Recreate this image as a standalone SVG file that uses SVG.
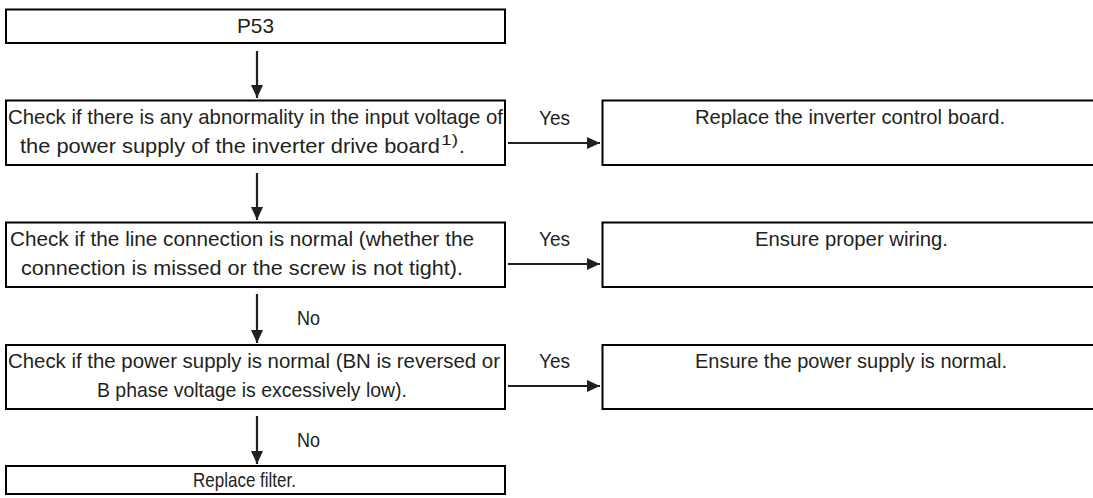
<svg xmlns="http://www.w3.org/2000/svg" width="1093" height="498" viewBox="0 0 1093 498">
<style>
.box{fill:#fff;stroke:#000;stroke-width:2}
text{font-family:"Liberation Sans",Arial,sans-serif;font-size:21px;fill:#231f20}
.c{stroke:#231f20;stroke-width:2.2;fill:none}
</style>
<defs>
<marker id="ah" markerUnits="userSpaceOnUse" markerWidth="14" markerHeight="12" viewBox="0 0 14 12" refX="13" refY="6" orient="auto">
<path d="M0,0 L13,6 L0,12 Z" fill="#231f20"/>
</marker>
</defs>
<rect width="1093" height="498" fill="#fff"/>
<g id="connectors">
<line class="c" x1="257" y1="51" x2="257" y2="98" marker-end="url(#ah)"/>
<line class="c" x1="257" y1="173" x2="257" y2="220" marker-end="url(#ah)"/>
<line class="c" x1="257" y1="294" x2="257" y2="343" marker-end="url(#ah)"/>
<line class="c" x1="257" y1="416" x2="257" y2="464" marker-end="url(#ah)"/>
<line class="c" x1="508" y1="143" x2="600" y2="143" marker-end="url(#ah)"/>
<line class="c" x1="508" y1="264" x2="600" y2="264" marker-end="url(#ah)"/>
<line class="c" x1="508" y1="386" x2="600" y2="386" marker-end="url(#ah)"/>
<text x="539" y="125" textLength="31" lengthAdjust="spacingAndGlyphs">Yes</text>
<text x="539" y="246" textLength="31" lengthAdjust="spacingAndGlyphs">Yes</text>
<text x="539" y="368" textLength="31" lengthAdjust="spacingAndGlyphs">Yes</text>
<text x="297" y="325" textLength="23" lengthAdjust="spacingAndGlyphs">No</text>
<text x="297" y="447" textLength="23" lengthAdjust="spacingAndGlyphs">No</text>
</g>
<g id="n-p53">
<rect class="box" x="6" y="9.5" width="499" height="33.5"/>
<text x="237" y="33" textLength="37" lengthAdjust="spacingAndGlyphs">P53</text>
</g>
<g id="n-check-voltage">
<rect class="box" x="6" y="100.5" width="499" height="64.5"/>
<text x="8" y="124" font-size="19.5" textLength="495" lengthAdjust="spacingAndGlyphs">Check if there is any abnormality in the input voltage of</text>
<text x="20" y="153"><tspan textLength="420" lengthAdjust="spacingAndGlyphs">the power supply of the inverter drive board</tspan><tspan x="441" y="145" font-size="15" textLength="17" lengthAdjust="spacingAndGlyphs">1)</tspan><tspan x="459" y="153">.</tspan></text>
</g>
<g id="n-replace-board">
<rect class="box" x="602.5" y="100.5" width="492" height="64.5"/>
<text x="695" y="124" textLength="310" lengthAdjust="spacingAndGlyphs">Replace the inverter control board.</text>
</g>
<g id="n-check-line">
<rect class="box" x="6" y="222.5" width="499" height="64.5"/>
<text x="10" y="246" textLength="464" lengthAdjust="spacingAndGlyphs">Check if the line connection is normal (whether the</text>
<text x="21" y="275" textLength="442" lengthAdjust="spacingAndGlyphs">connection is missed or the screw is not tight).</text>
</g>
<g id="n-wiring">
<rect class="box" x="602.5" y="222.5" width="492" height="64.5"/>
<text x="755" y="246" textLength="193" lengthAdjust="spacingAndGlyphs">Ensure proper wiring.</text>
</g>
<g id="n-check-power">
<rect class="box" x="6" y="345" width="499" height="64"/>
<text x="8" y="368" font-size="19.5" textLength="492" lengthAdjust="spacingAndGlyphs">Check if the power supply is normal (BN is reversed or</text>
<text x="97" y="397" textLength="310" lengthAdjust="spacingAndGlyphs">B phase voltage is excessively low).</text>
</g>
<g id="n-power-normal">
<rect class="box" x="602.5" y="345" width="492" height="64"/>
<text x="695" y="368" textLength="312" lengthAdjust="spacingAndGlyphs">Ensure the power supply is normal.</text>
</g>
<g id="n-filter">
<rect class="box" x="6" y="466" width="499" height="28"/>
<text x="193" y="487" textLength="103" lengthAdjust="spacingAndGlyphs">Replace filter.</text>
</g>
</svg>
